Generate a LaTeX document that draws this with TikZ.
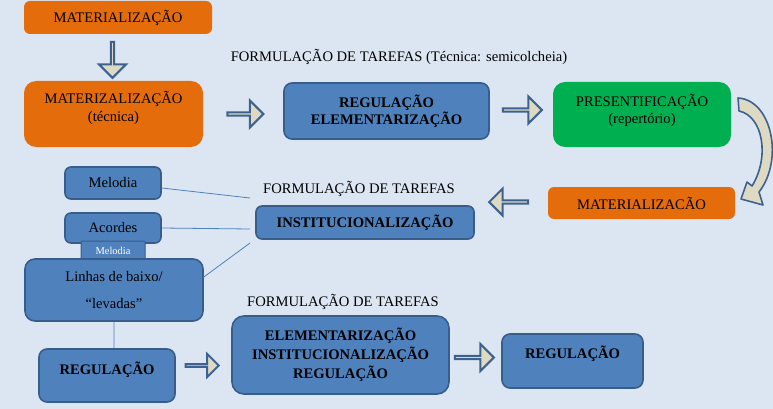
\documentclass[tikz,border=0pt]{standalone}
\usepackage{fontspec}
\setmainfont{Liberation Serif}
\usetikzlibrary{shapes.arrows}
\definecolor{bgblue}{HTML}{DCE6F2}
\definecolor{boxblue}{HTML}{4F81BD}
\definecolor{lineblue}{HTML}{385D8A}
\definecolor{boxorange}{HTML}{E46C0A}
\definecolor{boxgreen}{HTML}{00B050}
\definecolor{arrowfill}{HTML}{DDD9C3}
\definecolor{arrowline}{HTML}{3E6290}
\newcommand{\lifted}[2]{\raisebox{#1}[\height][\depth]{#2}}

\begin{document}
\begin{tikzpicture}[x=1pt, y=-1pt,
        every node/.style={font=\fontsize{14.6}{17.5}\selectfont, inner sep=0pt, align=center},
        orangebox/.style={rectangle, rounded corners=7pt, fill=boxorange},
        greenbox/.style={rectangle, rounded corners=12pt, fill=boxgreen},
        bluebox/.style={rectangle, rounded corners=8pt, draw=lineblue, line width=1.6pt, fill=boxblue, font=\fontsize{14.6}{17.5}\selectfont\bfseries},
        plainbox/.style={bluebox, font=\fontsize{14.6}{17.5}\selectfont},
        fatarrow/.style={single arrow, draw=arrowline, fill=arrowfill, line width=2pt, minimum height=36pt, minimum width=27pt, single arrow head extend=7pt},
        link/.style={draw=boxblue, line width=0.8pt}]
        \fill[bgblue] (0,0) rectangle (773,409);
        \useasboundingbox (0,0) rectangle (773,409);

        % top row
        \node[orangebox, rounded corners=6pt, minimum width=188pt, minimum height=33pt] (mat1) at (118,17.5) {MATERIALIZAÇÃO};
        \node[orangebox, rounded corners=12pt, minimum width=179pt, minimum height=66pt] (mattec) at (113.5,114) {\lifted{5pt}{\begin{tabular}{@{}c@{}}MATERIZALIZAÇÃO\\(técnica)\end{tabular}}};
        \node[bluebox, minimum width=205pt, minimum height=56pt] (regel) at (386.5,111) {REGULAÇÃO\\ELEMENTARIZAÇÃO};
        \node[greenbox, minimum width=178pt, minimum height=65pt] (pres) at (642,114.5) {\lifted{3pt}{\begin{tabular}{@{}c@{}}PRESENTIFICAÇÃO\\(repertório)\end{tabular}}};
        \node[orangebox, rounded corners=6pt, minimum width=187pt, minimum height=32pt] (mat2) at (641.5,203) {MATERIALIZACÃO};

        \node (form1) at (399,57) {FORMULAÇÃO DE TAREFAS (Técnica: semicolcheia)};
        \node (form2) at (359,189) {FORMULAÇÃO DE TAREFAS};
        \node (form3) at (343,302) {FORMULAÇÃO DE TAREFAS};

        % middle
        \node[bluebox, rounded corners=6pt, minimum width=218pt, minimum height=33pt] (inst) at (365,222.5) {INSTITUCIONALIZAÇÃO};
        \node[plainbox, rounded corners=6pt, minimum width=96pt, minimum height=32pt] (mel) at (113,183) {Melodia};
        \node[plainbox, rounded corners=6pt, minimum width=96pt, minimum height=30pt] (acor) at (113,228) {Acordes};
        \node[plainbox, rounded corners=1pt, minimum width=64pt, minimum height=19pt, line width=1pt, text=white, font=\fontsize{10.5}{12}\selectfont] (melsub) at (113,250.5) {Melodia};
        \node[plainbox, rounded corners=10pt, minimum width=178pt, minimum height=62pt] (linhas) at (114,290) {Linhas de baixo/\\[9pt]“levadas”};

        % bottom
        \node[bluebox, minimum width=136pt, minimum height=53pt] (regl) at (107,375.5) {\lifted{6pt}{REGULAÇÃO}};
        \node[bluebox, rounded corners=12pt, minimum width=217pt, minimum height=78pt, font=\fontsize{14.6}{19}\selectfont\bfseries] (elem) at (340.5,355) {ELEMENTARIZAÇÃO\\INSTITUCIONALIZAÇÃO\\REGULAÇÃO};
        \node[bluebox, minimum width=141pt, minimum height=54pt] (regr) at (572.5,361) {\lifted{7pt}{REGULAÇÃO}};

        % block arrows
        \node[fatarrow, shape border rotate=270] (dn) at (112.5,59) {};
        \node[fatarrow] (ar1) at (244.5,114) {};
        \node[fatarrow, minimum height=39pt] (ar2) at (521.5,110) {};
        \node[fatarrow, minimum height=39pt, shape border rotate=180] (ar3) at (509.5,202) {};
        \node[fatarrow, minimum height=39pt] (ar4) at (473.5,357.5) {};
        \node[fatarrow, minimum height=33pt, minimum width=23pt, shape border rotate=28] (ar5) at (201.5,365.5) {};

        \draw[arrowline, fill=arrowfill, line width=1.6pt, line join=round]
            (738,98) .. controls (772,100) and (784,160) .. (759,192)
            -- (763,205) -- (741,199) -- (747,182) -- (752,186)
            .. controls (770,157) and (763,116) .. (739,111) -- cycle;

        % links
        \coordinate (e1) at (250,198);
        \coordinate (e2) at (250,229);
        \coordinate (e3) at (250,243);
        \draw[link] ([yshift=-5pt]mel.east) -- (e1)
            (acor.east) -- (e2)
            ([yshift=13pt]linhas.east) -- (e3)
            (linhas.south) -- (linhas.south |- regl.north);
\end{tikzpicture}
\end{document}
